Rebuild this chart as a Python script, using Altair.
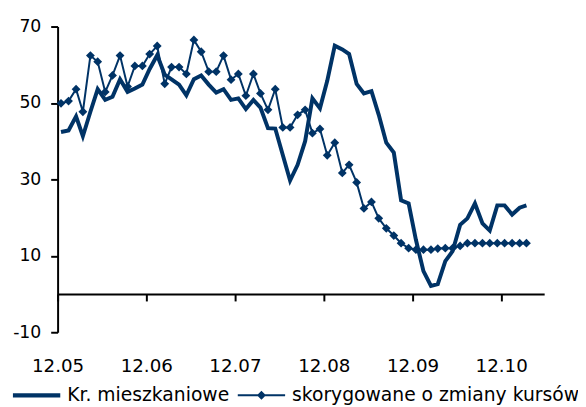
import altair as alt
import pandas as pd
from datetime import datetime, timezone

NAVY = "#003366"
FONT = "DejaVu Sans"

name1 = "Kr. mieszkaniowe"
name2 = "skorygowane o zmiany kursów"

# monthly observations Dec 2005 .. Mar 2011 (mid-month)
months = [f"{2005 + (11 + k) // 12}-{(11 + k) % 12 + 1:02d}-15" for k in range(64)]

kr_mieszkaniowe = [42.4, 42.8, 46.5, 41.3, 47.7, 53.6, 50.8, 51.6, 56.2, 52.9,
                   53.8, 54.8, 58.9, 62.5, 57.4, 56.2, 54.8, 52.0, 56.2, 57.2,
                   54.8, 52.7, 53.6, 50.8, 51.2, 48.4, 50.8, 48.8, 43.4, 43.3,
                   36.4, 29.7, 33.8, 40.0, 51.2, 48.6, 55.8, 65.0, 64.0, 62.8,
                   55.0, 52.5, 53.1, 46.9, 39.6, 37.0, 24.5, 23.7, 14.2, 6.0,
                   2.1, 2.6, 8.6, 11.2, 18.1, 19.8, 23.7, 18.5, 16.6, 23.2,
                   23.2, 20.8, 22.6, 23.2]

skorygowane = [49.9, 50.5, 53.6, 47.7, 62.4, 60.8, 52.9, 57.2, 62.4, 54.3,
               59.7, 59.7, 62.8, 64.9, 55.0, 59.4, 59.4, 57.6, 66.5, 63.4,
               58.2, 58.2, 62.4, 56.1, 57.6, 51.9, 57.6, 52.5, 48.2, 53.6,
               43.6, 43.6, 46.9, 48.2, 42.1, 43.2, 36.3, 39.6, 31.7, 33.8,
               29.2, 22.4, 24.1, 19.8, 17.2, 15.3, 13.3, 12.0, 11.6, 11.6,
               11.6, 11.9, 12.0, 12.0, 12.6, 13.3, 13.3, 13.3, 13.3, 13.3,
               13.3, 13.3, 13.3, 13.3]

y_ticks = [-10, 10, 30, 50, 70]
x_tick_years = [2005, 2006, 2007, 2008, 2009, 2010]


def ms(y, m, d):
    return int(datetime(y, m, d, tzinfo=timezone.utc).timestamp() * 1000)


x_tick_values = [ms(y, 12, 1) for y in x_tick_years]
x_domain = [ms(2005, 12, 1), ms(2011, 5, 27)]

df = pd.DataFrame({
    "date": months * 2,
    "value": kr_mieszkaniowe + skorygowane,
    "series": [name1] * len(months) + [name2] * len(months),
})

x_enc = alt.X(
    "date:T",
    scale=alt.Scale(type="utc", domain=x_domain),
    axis=alt.Axis(
        values=x_tick_values, format="%m.%y", title=None, grid=False,
        offset=-38.75, tickSize=7, tickWidth=2, tickColor="black",
        domainColor="black", domainWidth=2, labelPadding=57,
        labelFont=FONT, labelFontSize=18.5, labelColor="black",
        labelAngle=0, labelFlush=False, labelOverlap=False,
    ),
)
y_enc = alt.Y(
    "value:Q",
    scale=alt.Scale(domain=[-10, 70], nice=False, zero=False),
    axis=alt.Axis(
        values=y_ticks, title=None, grid=False, tickSize=7, tickWidth=2,
        tickColor="black", domainColor="black", domainWidth=2,
        labelPadding=10, labelFont=FONT, labelFontSize=17.5,
        labelColor="black", labelFlush=False, labelOverlap=False,
        labelExpr="datum.value + ''",
    ),
)

# legend glyphs drawn as filled outlines (unit coords, symbol is 48 px wide)
thick_line_path = "M-1,-0.085H1V0.085H-1Z"
thin_line_diamond_path = "M-1,-0.042H1V0.042H-1ZM-0.19,0L0,-0.19L0.19,0L0,0.19Z"

base = alt.Chart(df)

line1 = base.transform_filter(alt.datum.series == name1).mark_line(
    color=NAVY, strokeWidth=4
).encode(x=x_enc, y=y_enc)

line2 = base.transform_filter(alt.datum.series == name2).mark_line(
    color=NAVY, strokeWidth=2
).encode(x=x_enc, y=y_enc)

points = base.transform_filter(alt.datum.series == name2).mark_point(
    shape="diamond", filled=True, size=80, color=NAVY, opacity=1
).encode(x=x_enc, y=y_enc)

legend = alt.Legend(
    title=None, orient="none", direction="horizontal",
    legendX=-45.3, legendY=350,
    labelFont=FONT, labelFontSize=19, labelColor="black", labelLimit=600,
    labelOffset=7, columnPadding=8, symbolSize=2304,
    symbolFillColor=NAVY, symbolStrokeWidth=0, symbolOpacity=1,
)

legend_layer = base.transform_filter("false").mark_point(
    filled=True, fill=NAVY, opacity=1, size=2304, strokeWidth=0
).encode(
    shape=alt.Shape(
        "series:N",
        scale=alt.Scale(domain=[name1, name2], range=[thick_line_path, thin_line_diamond_path]),
        legend=legend,
    ),
)

chart = alt.layer(line1, line2, points, legend_layer).properties(
    width=493.4, height=310,
    autosize=alt.AutoSizeParams(type="none"),
    padding={"left": 50.3, "top": 16, "right": 34.3, "bottom": 73},
).configure_view(stroke=None)

chart.save("out.html", embed_options={"renderer": "svg", "actions": False})
